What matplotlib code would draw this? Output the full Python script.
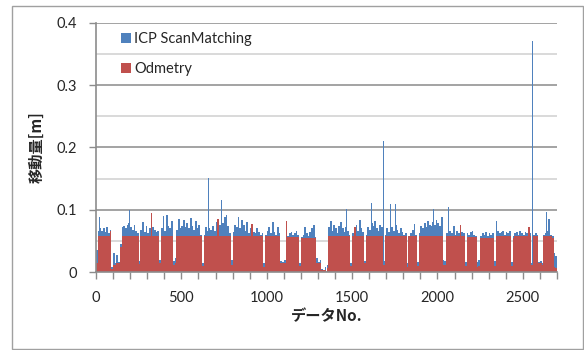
import numpy as np
import matplotlib
matplotlib.use("Agg")
import matplotlib.pyplot as plt
from matplotlib.patches import Rectangle

# ---------------- data (values in mm, one value per 10 data points) ----------------
bin_size = 10
icp_mm = [
    35, 65, 70, 66, 70, 64, 73, 62, 68, 8,
    30, 14, 27, 16, 45, 72, 74, 70, 75, 78,
    73, 68, 76, 66, 62, 18, 68, 80, 64, 74,
    63, 70, 66, 72, 68, 64, 66, 20, 70, 90,
    66, 91, 74, 70, 82, 18, 22, 68, 85, 70,
    74, 84, 72, 78, 70, 86, 74, 68, 82, 70,
    76, 60, 14, 60, 72, 66, 70, 68, 74, 65,
    80, 70, 76, 82, 78, 88, 92, 74, 62, 20,
    64, 76, 72, 88, 70, 84, 76, 66, 80, 62,
    70, 66, 64, 62, 70, 64, 60, 62, 14, 60,
    66, 72, 62, 80, 64, 60, 72, 62, 18, 16,
    20, 62, 58, 62, 64, 60, 62, 66, 60, 14,
    56, 60, 72, 62, 58, 64, 70, 76, 56, 22,
    16, 20, 5, 2, 8, 12, 72, 82, 66, 76,
    70, 62, 74, 80, 70, 64, 72, 66, 60, 14,
    62, 70, 76, 66, 84, 70, 64, 18, 60, 72,
    68, 78, 74, 82, 70, 66, 76, 72, 18, 60,
    70, 64, 80, 72, 66, 75, 68, 62, 70, 64,
    60, 62, 14, 58, 62, 68, 77, 60, 16, 62,
    74, 70, 78, 72, 82, 76, 74, 80, 76, 84,
    78, 74, 88, 20, 18, 62, 72, 66, 62, 74,
    60, 66, 62, 60, 64, 62, 16, 62, 60, 64,
    66, 60, 58, 16, 20, 58, 62, 60, 64, 58,
    62, 60, 62, 18, 82, 66, 62, 64, 66, 60,
    64, 62, 66, 16, 58, 62, 64, 60, 66, 62,
    60, 64, 62, 60, 62, 14, 60, 62, 60, 16,
    18, 15, 60, 62, 66, 85, 60, 58, 30, 25,
]
odo_mm = [
    15, 58, 58, 58, 57, 58, 58, 57, 66, 5,
    12, 12, 14, 14, 40, 58, 58, 58, 58, 58,
    58, 58, 58, 58, 58, 13, 58, 58, 58, 58,
    58, 58, 94, 58, 58, 58, 58, 14, 58, 58,
    58, 58, 58, 58, 58, 12, 14, 57, 57, 57,
    57, 57, 57, 57, 57, 57, 57, 57, 57, 57,
    57, 57, 10, 57, 58, 58, 58, 58, 58, 58,
    58, 85, 58, 58, 58, 58, 58, 58, 58, 12,
    58, 58, 58, 58, 58, 58, 58, 58, 58, 57,
    58, 77, 58, 57, 57, 57, 57, 57, 8, 57,
    57, 57, 57, 57, 57, 57, 57, 57, 15, 14,
    15, 82, 56, 56, 56, 56, 56, 56, 56, 10,
    55, 55, 55, 55, 55, 55, 55, 55, 55, 14,
    14, 14, 4, 3, 4, 6, 57, 57, 57, 57,
    57, 57, 57, 57, 57, 57, 57, 57, 57, 10,
    57, 72, 57, 57, 57, 57, 57, 14, 57, 57,
    57, 57, 57, 57, 57, 57, 57, 57, 12, 57,
    57, 57, 57, 57, 57, 57, 57, 57, 57, 57,
    57, 57, 8, 57, 57, 57, 57, 57, 10, 57,
    57, 57, 57, 57, 57, 57, 57, 57, 57, 57,
    57, 57, 57, 12, 12, 57, 57, 57, 57, 57,
    57, 57, 57, 75, 57, 57, 10, 56, 56, 56,
    56, 56, 56, 8, 10, 55, 55, 55, 55, 55,
    55, 55, 55, 10, 57, 57, 57, 57, 57, 57,
    57, 57, 57, 10, 55, 57, 57, 57, 57, 57,
    57, 57, 57, 73, 57, 12, 57, 57, 57, 14,
    14, 12, 57, 57, 57, 57, 57, 55, 8, 6,
]
# single-point ICP peaks (data No., value in m)
spike_idx = [20, 197, 657, 734, 1466, 1613, 1686, 1724, 1754, 1976, 2062, 2556, 2638]
spike_val = [0.088, 0.100, 0.151, 0.115, 0.101, 0.111, 0.210, 0.109, 0.109, 0.101, 0.105, 0.370, 0.097]

series_names = ["ICP ScanMatching", "Odmetry"]
x_major = [0, 500, 1000, 1500, 2000, 2500]
y_major = [0, 0.1, 0.2, 0.3, 0.4]
y_minor = [0.05, 0.15, 0.25, 0.35]

BLUE = "#4F81BD"
RED = "#C0504D"
TXT = "#262626"

W, H = 584, 350
fig = plt.figure(figsize=(W / 100, H / 100), dpi=100)
fig.patch.set_facecolor("white")
fig.patches.append(Rectangle((12 / W, 1 / H), (W - 13) / W, (H - 7) / H,
                             transform=fig.transFigure, fill=False,
                             edgecolor="#a0a0a0", linewidth=1.0))

ax = fig.add_axes([96 / W, 1 - 272 / H, 461 / W, (272 - 22.7) / H])

x = np.arange(len(icp_mm)) * bin_size
icp = np.array(icp_mm) / 1000.0
odo = np.array(odo_mm) / 1000.0

ax.bar(x, icp, width=bin_size, align="edge", color=BLUE, linewidth=0, zorder=2,
       label=series_names[0])
ax.bar(spike_idx, spike_val, width=6, align="center", color=BLUE, linewidth=0, zorder=2)
ax.bar(x, odo, width=bin_size, align="edge", color=RED, linewidth=0, zorder=3,
       label=series_names[1])

ax.set_xlim(0, len(icp_mm) * bin_size)
ax.set_ylim(0, 0.4)
ax.set_yticks(y_major)
ax.set_yticklabels(["0", "0.1", "0.2", "0.3", "0.4"])
ax.set_yticks(y_minor, minor=True)
ax.set_xticks(np.arange(0, len(icp_mm) * bin_size + 1, 100), minor=True)
ax.set_xticks(x_major)
ax.set_xticklabels([str(v) for v in x_major])

for s in ["top", "right"]:
    ax.spines[s].set_visible(False)
for s in ["left", "bottom"]:
    ax.spines[s].set_color("#8c8c8c")
    ax.spines[s].set_linewidth(1.2)
    ax.spines[s].set_zorder(5)

ax.grid(axis="y", which="major", color="#9c9c9c", linewidth=1.3, zorder=0)
ax.grid(axis="y", which="minor", color="#d0d0d0", linewidth=1.1, zorder=0)
ax.tick_params(axis="y", which="major", direction="out", length=5, width=1, color="#8c8c8c",
               pad=9, labelsize=10.5, labelcolor=TXT)
ax.tick_params(axis="y", which="minor", length=0)
ax.tick_params(axis="x", which="both", direction="out", length=5, width=1, color="#8c8c8c",
               pad=9, labelsize=10.5, labelcolor=TXT)
for lab in ax.get_xticklabels() + ax.get_yticklabels():
    lab.set_family(["Lato", "DejaVu Sans"])

jp = ["Noto Sans CJK JP", "DejaVu Sans"]
ax.set_ylabel("移動量[m]", family=jp, fontweight="bold", fontsize=11, color=TXT, labelpad=8)
ax.set_xlabel("データNo.", family=jp, fontweight="bold", fontsize=11, color=TXT, labelpad=2)

leg = ax.legend(loc="upper left", bbox_to_anchor=(0.038, 0.99), frameon=False,
                handlelength=0.7, handleheight=0.7, handletextpad=0.2,
                labelspacing=1.05, borderpad=0,
                prop={"family": ["Lato", "DejaVu Sans"], "size": 10.5})
for t in leg.get_texts():
    t.set_color(TXT)

fig.savefig("out.png", dpi=100)
